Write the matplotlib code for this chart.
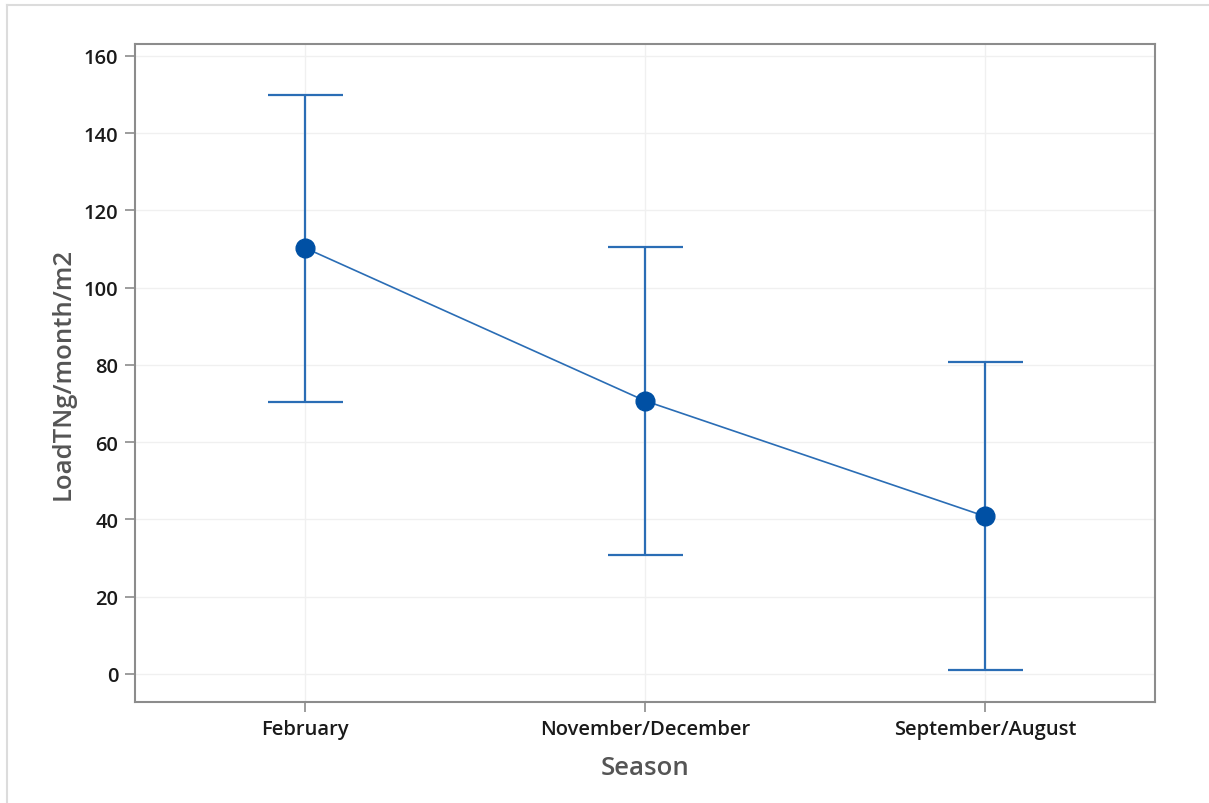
import matplotlib.pyplot as plt
from matplotlib.lines import Line2D

seasons = ["February", "November/December", "September/August"]
means = [110.3, 70.7, 40.8]
upper = [150.0, 110.6, 80.7]
lower = [70.3, 30.9, 0.9]

plt.rcParams["font.family"] = ["Open Sans", "DejaVu Sans"]

fig = plt.figure(figsize=(12.09, 8.04), dpi=100)
ax = fig.add_axes([0.1117, 0.1256, 0.8436, 0.8184])

x = list(range(len(seasons)))
yerr = [[m - lo for m, lo in zip(means, lower)], [hi - m for m, hi in zip(means, upper)]]
ax.errorbar(x, means, yerr=yerr, fmt="none", ecolor="#2a6db5", elinewidth=1.6,
            capsize=27, capthick=1.6, zorder=3)
ax.plot(x, means, color="#2a6db5", linewidth=1.2, zorder=3)
ax.plot(x, means, linestyle="none", marker="o", markersize=13.5,
        color="#0050a4", zorder=4)

ax.set_xlim(-0.5, 2.5)
ax.set_ylim(-7.3, 163.1)
ax.set_yticks(range(0, 161, 20))
ax.set_xticks(x, seasons)
ax.grid(color="#f0f0f0", linewidth=1.0)
ax.set_axisbelow(True)
for spine in ax.spines.values():
    spine.set_color("#8c8c8c")
    spine.set_linewidth(1.5)
ax.tick_params(direction="out", length=7, width=1.2, color="#8c8c8c",
               labelsize=14.5, labelcolor="#1a1a1a", pad=5)
for label in ax.get_xticklabels() + ax.get_yticklabels():
    label.set_fontweight("semibold")

ax.set_xlabel("Season", fontsize=18.5, color="#555555", labelpad=12, fontweight="semibold")
ax.set_ylabel("LoadTNg/month/m2", fontsize=18.5, color="#555555", labelpad=6, fontweight="semibold")

# light page frame around the chart
fig.add_artist(Line2D([7 / 1209, 1.0], [1 - 6 / 804] * 2, color="#dcdcdc", linewidth=1.5))
fig.add_artist(Line2D([7 / 1209] * 2, [0.0, 1 - 6 / 804], color="#dcdcdc", linewidth=1.5))

fig.savefig("out.png", dpi=100)
